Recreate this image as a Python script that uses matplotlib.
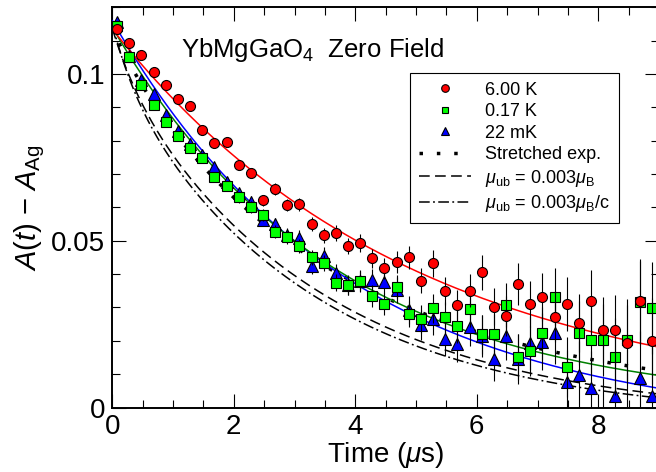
import numpy as np
import matplotlib
matplotlib.use("Agg")
import matplotlib.pyplot as plt
from matplotlib.lines import Line2D

plt.rcParams["font.family"] = ["Liberation Sans", "DejaVu Sans"]
plt.rcParams["mathtext.fontset"] = "custom"
plt.rcParams["mathtext.rm"] = "Liberation Sans"
plt.rcParams["mathtext.it"] = "Liberation Sans:italic"
plt.rcParams["mathtext.bf"] = "Liberation Sans:bold"
plt.rcParams["mathtext.sf"] = "Liberation Sans"

# ---- binned zero-field asymmetry data -------------------------------------
time_us = [0.08, 0.28, 0.48, 0.68, 0.88, 1.08, 1.28, 1.48, 1.68, 1.88,
           2.08, 2.28, 2.48, 2.68, 2.88, 3.08, 3.28, 3.48, 3.68, 3.88,
           4.08, 4.28, 4.48, 4.68, 4.88, 5.08, 5.28, 5.48, 5.68, 5.88,
           6.08, 6.28, 6.48, 6.68, 6.88, 7.08, 7.28, 7.48, 7.68, 7.88,
           8.08, 8.28, 8.48, 8.68, 8.88]

asym_6K = [0.1134, 0.1094, 0.1056, 0.1006, 0.0966, 0.0925, 0.0904, 0.0832, 0.0793, 0.0796,
           0.0727, 0.0704, 0.0621, 0.0655, 0.0606, 0.0609, 0.0550, 0.0516, 0.0522, 0.0484,
           0.0494, 0.0447, 0.0417, 0.0436, 0.0450, 0.0380, 0.0432, 0.0349, 0.0307, 0.0350,
           0.0405, 0.0302, 0.0274, 0.0370, 0.0310, 0.0330, 0.0272, 0.0310, 0.0253, 0.0319,
           0.0232, 0.0232, 0.0193, 0.0320, 0.0199]

asym_017K = [0.1144, 0.1050, 0.0966, 0.0906, 0.0856, 0.0813, 0.0778, 0.0748, 0.0691, 0.0663,
             0.0630, 0.0601, 0.0577, 0.0527, 0.0510, 0.0484, 0.0450, 0.0433, 0.0374, 0.0366,
             0.0379, 0.0334, 0.0310, 0.0360, 0.0280, 0.0264, 0.0297, 0.0270, 0.0244, 0.0294,
             0.0219, 0.0219, 0.0307, 0.0151, 0.0169, 0.0222, 0.0332, 0.0121, 0.0222, 0.0202,
             0.0202, 0.0152, 0.0202, 0.0316, 0.0297]

asym_22mK = [0.1157, 0.1054, 0.0982, 0.0940, 0.0877, 0.0830, 0.0790, 0.0757, 0.0720, 0.0676,
             0.0642, 0.0617, 0.0562, 0.0549, 0.0517, 0.0508, 0.0425, 0.0454, 0.0402, 0.0367,
             0.0379, 0.0382, 0.0375, 0.0352, 0.0292, 0.0247, 0.0264, 0.0204, 0.0190, 0.0241,
             0.0214, 0.0145, 0.0213, 0.0145, 0.0193, 0.0197, 0.0222, 0.0075, 0.0096, 0.0058,
             -0.0030, 0.0035, -0.0030, 0.0088, 0.0035]

err_6K = [0.0008, 0.0008, 0.0009, 0.0009, 0.0010, 0.0010, 0.0011, 0.0012, 0.0012, 0.0013,
          0.0014, 0.0015, 0.0016, 0.0017, 0.0018, 0.0019, 0.0021, 0.0022, 0.0024, 0.0025,
          0.0027, 0.0029, 0.0031, 0.0033, 0.0035, 0.0038, 0.0040, 0.0043, 0.0046, 0.0049,
          0.0052, 0.0056, 0.0060, 0.0064, 0.0068, 0.0072, 0.0077, 0.0082, 0.0088, 0.0094,
          0.0100, 0.0106, 0.0113, 0.0120, 0.0128]

err_017K = [0.0009, 0.0009, 0.0010, 0.0010, 0.0011, 0.0011, 0.0012, 0.0013, 0.0014, 0.0015,
            0.0016, 0.0017, 0.0018, 0.0019, 0.0020, 0.0021, 0.0023, 0.0024, 0.0026, 0.0028,
            0.0030, 0.0032, 0.0034, 0.0036, 0.0039, 0.0042, 0.0044, 0.0047, 0.0050, 0.0054,
            0.0058, 0.0062, 0.0066, 0.0070, 0.0075, 0.0080, 0.0085, 0.0090, 0.0096, 0.0102,
            0.0108, 0.0115, 0.0122, 0.0130, 0.0138]

err_22mK = [0.0009, 0.0010, 0.0010, 0.0011, 0.0011, 0.0012, 0.0013, 0.0014, 0.0015, 0.0016,
            0.0017, 0.0018, 0.0019, 0.0020, 0.0022, 0.0023, 0.0025, 0.0026, 0.0028, 0.0030,
            0.0032, 0.0034, 0.0036, 0.0039, 0.0042, 0.0045, 0.0048, 0.0051, 0.0054, 0.0058,
            0.0062, 0.0066, 0.0071, 0.0076, 0.0081, 0.0086, 0.0092, 0.0098, 0.0104, 0.0110,
            0.0117, 0.0124, 0.0132, 0.0140, 0.0148]

labels = ["6.00 K", "0.17 K", "22 mK"]

# ---- fitted relaxation functions --------------------------------------------
# exponential fits: A0, rate (1/us), baseline
fit_6K = (0.1135, 0.204, 0.0)
fit_017K = (0.1140, 0.275, 0.0)
fit_22mK = (0.1220, 0.260, -0.0060)
# stretched exponential: A0, rate (1/us), beta
fit_stretched = (0.1140, 0.282, 0.91)
# undetected-moment models: fast amp, fast rate, slow amp, slow rate, baseline
model_ub = (0.0120, 2.4, 0.1047, 0.300, -0.0030)
model_ub_c = (0.0150, 2.6, 0.1035, 0.310, -0.0035)


def exp_fit(t, a0, lam, base):
    return a0 * np.exp(-lam * t) + base


def stretched(t, a0, lam, beta):
    return a0 * np.exp(-(lam * t) ** beta)


def two_rate(t, a1, k1, a2, k2, base):
    return a1 * np.exp(-k1 * t) + a2 * np.exp(-k2 * t) + base


t = np.linspace(0.0, 9.2, 500)

fig = plt.figure(figsize=(6.56, 4.72), dpi=100)
ax = fig.add_axes([112.3 / 656, 64.5 / 472, 546.75 / 656, 400.2 / 472])

ax.plot(t, two_rate(t, *model_ub), color="black", lw=1.1,
        linestyle=(0, (7, 3.5)), zorder=2)
ax.plot(t, two_rate(t, *model_ub_c), color="black", lw=1.1,
        linestyle=(0, (7, 2.2, 1.2, 2.2)), zorder=2)
ax.plot(t, stretched(t, *fit_stretched), color="black", lw=2.5,
        linestyle=(0, (1, 4)), dash_capstyle="butt", zorder=2)
ax.plot(t, exp_fit(t, *fit_22mK), color="#0000ff", lw=1.1, zorder=3)
ax.plot(t, exp_fit(t, *fit_017K), color="#008000", lw=1.1, zorder=3)
ax.plot(t, exp_fit(t, *fit_6K), color="#ff0000", lw=1.1, zorder=3)

common = dict(ecolor="black", elinewidth=0.8, capsize=0, linestyle="none",
              markeredgecolor="black", markeredgewidth=0.8)
ax.errorbar(time_us, asym_22mK, yerr=err_22mK, marker="^", ms=8.2,
            markerfacecolor="#0000ff", zorder=4, **common)
ax.errorbar(time_us, asym_017K, yerr=err_017K, marker="s", ms=6.8,
            markerfacecolor="#00ff00", zorder=5, **common)
ax.errorbar(time_us, asym_6K, yerr=err_6K, marker="o", ms=7.2,
            markerfacecolor="#ff0000", zorder=6, **common)

ax.set_xlim(0, 9)
ax.set_ylim(0, 0.12)
ax.set_xticks([0, 2, 4, 6, 8])
ax.set_xticklabels(["0", "2", "4", "6", "8"])
ax.set_xticks(np.arange(0, 9.01, 0.5), minor=True)
ax.set_yticks([0, 0.05, 0.1])
ax.set_yticklabels(["0", "0.05", "0.1"])
ax.set_yticks(np.arange(0, 0.1201, 0.01), minor=True)
ax.tick_params(which="both", direction="in", top=True, right=True,
               width=0.8, labelsize=20)
ax.tick_params(which="major", length=10)
ax.tick_params(which="minor", length=5.5)
ax.tick_params(axis="x", pad=5)
ax.tick_params(axis="y", pad=5)
for s in ax.spines.values():
    s.set_linewidth(1.4)

ax.set_xlabel(r"Time ($\mu$s)", fontsize=20, labelpad=0)
ax.set_ylabel(r"$A(t)$ $-$ $A_{\rm Ag}$", fontsize=21)
ax.yaxis.set_label_coords(-0.12, 0.5)

ax.text(0.1257, 0.8766, r"YbMgGaO$_4$  Zero Field", transform=ax.transAxes,
        fontsize=18.5, ha="left", va="baseline")

handles = [
    Line2D([], [], marker="o", ms=5.5, mfc="#ff0000", mec="black", mew=0.8, ls="none"),
    Line2D([], [], marker="s", ms=5.0, mfc="#00ff00", mec="black", mew=0.8, ls="none"),
    Line2D([], [], marker="^", ms=6.0, mfc="#0000ff", mec="black", mew=0.8, ls="none"),
    Line2D([], [], color="black", lw=2.5, ls=(0, (1, 4)), dash_capstyle="butt"),
    Line2D([], [], color="black", lw=1.1, ls=(0, (7, 3.5))),
    Line2D([], [], color="black", lw=1.1, ls=(0, (7, 2.2, 1.2, 2.2))),
]
legend_labels = labels + ["Stretched exp.",
                          r"$\mu_{\rm ub}$ = 0.003$\mu_{\rm B}$",
                          r"$\mu_{\rm ub}$ = 0.003$\mu_{\rm B}$/c"]
leg = ax.legend(handles, legend_labels, loc="upper left",
                bbox_to_anchor=(0.5445, 0.8366), borderaxespad=0,
                fontsize=13, frameon=True, fancybox=False, edgecolor="black",
                framealpha=1, handlelength=2.9, handletextpad=0.75,
                borderpad=0.5, labelspacing=0.25)
leg.get_frame().set_linewidth(0.8)

fig.savefig("out.png", dpi=100)
